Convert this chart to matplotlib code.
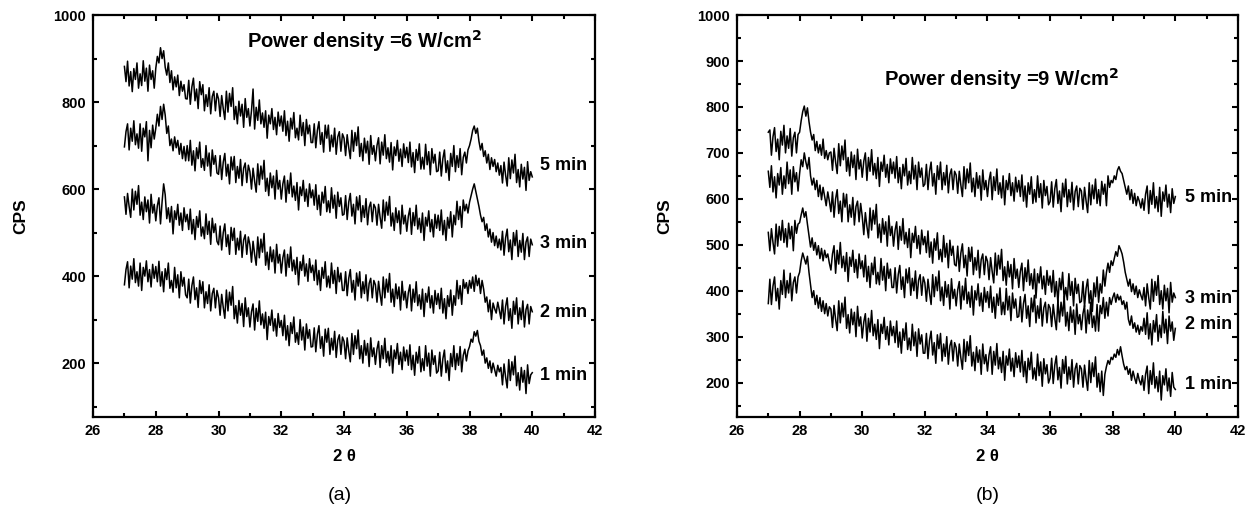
import matplotlib
matplotlib.use("Agg")
import matplotlib.pyplot as plt
import numpy as np
from matplotlib.ticker import MultipleLocator

# 2-theta grid, 27.00 .. 40.00 in 0.05 steps (261 points)
two_theta = np.round(np.arange(540, 801) / 20.0, 2)

# ---------------------------------------------------------------------------
# (a) power density 6 W/cm2  -- one row per degree, 20 points each
# ---------------------------------------------------------------------------
a_5min = [
    882, 847, 894, 837, 870, 824, 877, 852, 890, 832, 865, 838, 895, 848, 878, 825, 885, 852, 872, 832,
    878, 905, 890, 925, 900, 918, 880, 862, 890, 845, 872, 828, 858, 835, 862, 815, 848, 825, 840, 808,
    807, 850, 795, 835, 855, 803, 830, 785, 847, 817, 840, 780, 817, 790, 833, 773, 813, 825, 780, 820,
    807, 767, 815, 785, 760, 825, 777, 820, 790, 833, 760, 790, 750, 802, 768, 795, 742, 808, 765, 785,
    745, 780, 830, 738, 788, 758, 805, 750, 775, 742, 780, 717, 770, 750, 785, 737, 765, 725, 777, 745,
    768, 733, 780, 723, 756, 710, 763, 738, 776, 718, 740, 713, 770, 723, 753, 700, 760, 727, 747, 707,
    707, 750, 695, 735, 755, 703, 730, 685, 747, 717, 747, 687, 724, 697, 740, 680, 720, 732, 687, 727,
    717, 677, 725, 695, 670, 735, 687, 730, 700, 743, 675, 705, 665, 717, 683, 710, 657, 723, 680, 700,
    665, 700, 718, 658, 708, 678, 725, 670, 695, 662, 707, 644, 697, 677, 712, 664, 692, 652, 704, 672,
    696, 661, 708, 651, 684, 638, 691, 666, 704, 646, 673, 646, 703, 656, 686, 633, 693, 660, 680, 640,
    642, 685, 630, 670, 690, 638, 665, 620, 682, 652, 700, 640, 677, 650, 693, 633, 673, 685, 660, 690,
    700, 715, 735, 745, 728, 740, 710, 690, 705, 675, 688, 660, 680, 645, 672, 652, 668, 640, 660, 632,
    654, 614, 662, 632, 607, 672, 624, 667, 637, 680, 615, 645, 605, 657, 623, 650, 597, 663, 620, 640,
    628,
]
a_3min = [
    697, 732, 750, 690, 740, 710, 757, 702, 727, 694, 750, 687, 740, 720, 755, 665, 735, 695, 747, 715,
    740, 772, 745, 790, 760, 795, 770, 728, 745, 700, 715, 688, 720, 695, 712, 680, 705, 670, 698, 665,
    700, 665, 712, 655, 688, 642, 695, 670, 708, 650, 670, 643, 700, 653, 683, 630, 690, 657, 677, 637,
    634, 677, 622, 662, 682, 630, 657, 612, 674, 644, 675, 615, 652, 625, 668, 608, 648, 660, 615, 655,
    640, 600, 648, 618, 593, 658, 610, 653, 623, 666, 595, 625, 585, 637, 603, 630, 577, 643, 600, 620,
    577, 612, 630, 570, 620, 590, 637, 582, 607, 574, 615, 552, 605, 585, 620, 572, 600, 560, 612, 580,
    598, 563, 610, 553, 586, 540, 593, 568, 606, 548, 573, 546, 603, 556, 586, 533, 593, 560, 580, 540,
    542, 585, 530, 570, 590, 538, 565, 520, 582, 552, 585, 525, 562, 535, 578, 518, 558, 570, 525, 565,
    557, 517, 565, 535, 510, 575, 527, 570, 540, 583, 515, 545, 505, 557, 523, 550, 497, 563, 520, 540,
    503, 538, 556, 496, 546, 516, 563, 508, 533, 500, 545, 482, 535, 515, 550, 502, 530, 490, 542, 510,
    540, 505, 552, 495, 528, 482, 535, 510, 548, 490, 540, 518, 572, 530, 560, 512, 575, 550, 565, 545,
    570, 585, 600, 612, 595, 578, 560, 540, 525, 535, 505, 520, 490, 508, 478, 500, 470, 492, 465, 485,
    460, 503, 448, 488, 508, 456, 483, 438, 500, 470, 505, 445, 482, 455, 498, 438, 478, 490, 445, 485,
    472,
]
a_2min = [
    582, 542, 590, 560, 535, 600, 552, 595, 565, 608, 540, 570, 530, 582, 548, 575, 522, 588, 545, 565,
    527, 562, 580, 520, 570, 612, 587, 532, 557, 524, 560, 497, 550, 530, 565, 517, 545, 505, 557, 525,
    542, 507, 554, 497, 530, 484, 537, 512, 550, 492, 513, 486, 543, 496, 526, 473, 533, 500, 520, 480,
    472, 515, 460, 500, 520, 468, 495, 450, 512, 482, 510, 450, 487, 460, 503, 443, 483, 495, 450, 490,
    472, 432, 480, 450, 425, 490, 442, 485, 455, 498, 425, 455, 415, 467, 433, 460, 407, 473, 430, 450,
    407, 442, 460, 400, 450, 420, 467, 412, 437, 404, 443, 380, 433, 413, 448, 400, 428, 388, 440, 408,
    425, 390, 437, 380, 413, 367, 420, 395, 433, 375, 400, 373, 430, 383, 413, 360, 420, 387, 407, 367,
    367, 410, 355, 395, 415, 363, 390, 345, 407, 377, 410, 350, 387, 360, 403, 343, 383, 395, 350, 390,
    380, 340, 388, 358, 333, 398, 350, 393, 363, 406, 340, 370, 330, 382, 348, 375, 322, 388, 345, 365,
    327, 362, 380, 320, 370, 340, 387, 332, 357, 324, 370, 307, 360, 340, 375, 327, 355, 315, 367, 335,
    360, 325, 372, 315, 348, 302, 355, 330, 368, 310, 355, 333, 390, 348, 378, 335, 392, 372, 385, 360,
    390, 372, 398, 365, 402, 378, 395, 360, 390, 370, 340, 352, 318, 345, 300, 338, 325, 315, 340, 322,
    302, 345, 290, 330, 350, 298, 325, 280, 342, 312, 350, 290, 327, 300, 343, 283, 323, 335, 290, 330,
    318,
]
a_1min = [
    380, 415, 433, 373, 423, 393, 440, 385, 410, 377, 430, 367, 420, 400, 435, 387, 415, 375, 427, 395,
    422, 387, 434, 377, 410, 364, 417, 392, 430, 372, 390, 363, 420, 373, 403, 350, 410, 377, 397, 357,
    350, 393, 338, 378, 398, 346, 373, 328, 390, 360, 387, 327, 364, 337, 380, 320, 360, 372, 327, 367,
    350, 310, 358, 328, 303, 368, 320, 363, 333, 376, 302, 332, 292, 344, 310, 337, 284, 350, 307, 327,
    283, 318, 336, 276, 326, 296, 343, 288, 313, 280, 317, 254, 307, 287, 322, 274, 302, 262, 314, 282,
    298, 263, 310, 253, 286, 240, 293, 268, 306, 248, 270, 243, 300, 253, 283, 230, 290, 257, 277, 237,
    238, 281, 226, 266, 286, 234, 261, 216, 278, 248, 280, 220, 257, 230, 273, 213, 253, 265, 220, 260,
    250, 210, 258, 228, 203, 268, 220, 263, 233, 276, 210, 240, 200, 252, 218, 245, 192, 258, 215, 235,
    197, 232, 250, 190, 240, 210, 257, 202, 227, 194, 240, 177, 230, 210, 245, 197, 225, 185, 237, 205,
    230, 195, 242, 185, 218, 172, 225, 200, 238, 180, 210, 183, 240, 193, 223, 170, 230, 197, 217, 177,
    182, 225, 170, 210, 230, 178, 205, 160, 222, 192, 240, 185, 222, 195, 238, 180, 218, 232, 205, 228,
    238, 255, 248, 272, 262, 275, 250, 240, 218, 230, 200, 212, 188, 205, 178, 200, 185, 170, 195, 180,
    190, 150, 198, 168, 143, 208, 160, 203, 173, 216, 148, 178, 138, 190, 156, 183, 130, 196, 153, 173,
    178,
]

# ---------------------------------------------------------------------------
# (b) power density 9 W/cm2
# ---------------------------------------------------------------------------
b_5min = [
    745, 750, 695, 735, 755, 703, 730, 685, 747, 717, 760, 700, 737, 710, 753, 693, 733, 745, 700, 740,
    745, 770, 790, 802, 780, 798, 768, 745, 728, 740, 705, 725, 700, 718, 695, 730, 688, 705, 685, 700,
    702, 662, 710, 680, 655, 720, 672, 715, 685, 728, 660, 690, 650, 702, 668, 695, 642, 708, 665, 685,
    647, 682, 700, 640, 690, 660, 707, 652, 677, 644, 690, 627, 680, 660, 695, 647, 675, 635, 687, 655,
    680, 645, 692, 635, 668, 622, 675, 650, 688, 630, 660, 633, 690, 643, 673, 620, 680, 647, 667, 627,
    632, 675, 620, 660, 680, 628, 655, 610, 672, 642, 680, 620, 657, 630, 673, 613, 653, 665, 620, 660,
    652, 612, 660, 630, 605, 670, 622, 665, 635, 678, 615, 645, 605, 657, 623, 650, 597, 663, 620, 640,
    605, 640, 658, 598, 648, 618, 665, 610, 635, 602, 650, 587, 640, 620, 655, 607, 635, 595, 647, 615,
    640, 605, 652, 595, 628, 582, 635, 610, 648, 590, 620, 593, 650, 603, 633, 580, 640, 607, 627, 587,
    594, 637, 582, 622, 642, 590, 617, 572, 634, 604, 643, 583, 620, 593, 636, 576, 616, 628, 583, 623,
    617, 577, 625, 595, 570, 635, 587, 630, 600, 643, 590, 620, 585, 638, 610, 632, 585, 650, 625, 640,
    635, 650, 642, 662, 670, 660, 655, 640, 625, 610, 628, 598, 620, 590, 612, 585, 605, 595, 580, 600,
    575, 610, 628, 568, 618, 588, 635, 580, 605, 572, 625, 562, 615, 595, 630, 582, 610, 570, 622, 590,
    605,
]
b_3min = [
    660, 625, 672, 615, 648, 602, 655, 630, 668, 610, 650, 623, 680, 633, 663, 610, 670, 637, 657, 617,
    655, 685, 670, 700, 680, 665, 690, 650, 630, 645, 620, 640, 605, 630, 598, 625, 605, 585, 615, 595,
    572, 615, 560, 600, 620, 568, 595, 550, 612, 582, 610, 550, 587, 560, 603, 543, 583, 595, 550, 590,
    562, 522, 570, 540, 515, 580, 532, 575, 545, 588, 515, 545, 505, 557, 523, 550, 497, 563, 520, 540,
    497, 532, 550, 490, 540, 510, 557, 502, 527, 494, 535, 472, 525, 505, 540, 492, 520, 480, 532, 500,
    518, 483, 530, 473, 506, 460, 513, 488, 526, 468, 490, 463, 520, 473, 503, 450, 510, 477, 497, 457,
    454, 497, 442, 482, 502, 450, 477, 432, 494, 464, 495, 435, 472, 445, 488, 428, 468, 480, 435, 475,
    464, 424, 472, 442, 417, 482, 434, 477, 447, 490, 422, 452, 412, 464, 430, 457, 404, 470, 427, 447,
    407, 442, 460, 400, 450, 420, 467, 412, 437, 404, 447, 384, 437, 417, 452, 404, 432, 392, 444, 412,
    432, 397, 444, 387, 420, 374, 427, 402, 440, 382, 407, 380, 437, 390, 420, 367, 427, 394, 414, 374,
    377, 420, 365, 405, 425, 373, 400, 355, 417, 387, 430, 375, 415, 395, 445, 410, 440, 460, 440, 465,
    455, 470, 485, 475, 498, 490, 480, 462, 440, 425, 410, 425, 398, 415, 392, 410, 385, 402, 390, 380,
    407, 367, 415, 385, 360, 425, 377, 420, 390, 433, 370, 400, 360, 412, 378, 405, 352, 418, 375, 395,
    385,
]
b_2min = [
    527, 487, 535, 505, 480, 545, 497, 540, 510, 553, 505, 535, 495, 547, 513, 540, 487, 553, 525, 545,
    548, 565, 580, 560, 572, 545, 520, 495, 515, 488, 505, 478, 498, 470, 492, 465, 488, 472, 480, 460,
    445, 480, 498, 438, 488, 458, 505, 450, 475, 442, 483, 420, 473, 453, 488, 440, 468, 428, 480, 448,
    465, 430, 477, 420, 453, 407, 460, 435, 473, 415, 440, 413, 470, 423, 453, 400, 460, 427, 447, 407,
    407, 450, 395, 435, 455, 403, 430, 385, 447, 417, 450, 390, 427, 400, 443, 383, 423, 435, 390, 430,
    417, 377, 425, 395, 370, 435, 387, 430, 400, 443, 378, 408, 368, 420, 386, 413, 360, 426, 383, 403,
    367, 402, 420, 360, 410, 380, 427, 372, 397, 364, 410, 347, 400, 380, 415, 367, 395, 355, 407, 375,
    398, 363, 410, 353, 386, 340, 393, 368, 406, 348, 375, 348, 405, 358, 388, 335, 395, 362, 382, 342,
    344, 387, 332, 372, 392, 340, 367, 322, 384, 354, 390, 330, 367, 340, 383, 323, 363, 375, 330, 370,
    362, 322, 370, 340, 315, 380, 332, 375, 345, 388, 323, 353, 313, 365, 331, 358, 305, 371, 328, 348,
    315, 350, 368, 308, 358, 328, 375, 320, 345, 312, 370, 312, 368, 350, 385, 340, 375, 345, 385, 370,
    385, 395, 375, 392, 380, 388, 370, 378, 360, 375, 338, 325, 345, 318, 330, 310, 325, 305, 322, 312,
    340, 305, 352, 295, 328, 282, 335, 310, 348, 290, 325, 298, 355, 308, 338, 285, 345, 312, 332, 292,
    318,
]
b_1min = [
    372, 425, 370, 410, 430, 378, 405, 360, 422, 392, 445, 385, 422, 395, 438, 378, 418, 430, 395, 430,
    440, 465, 482, 470, 458, 475, 440, 412, 385, 400, 370, 390, 362, 385, 355, 378, 350, 372, 345, 365,
    360, 320, 368, 338, 313, 378, 330, 373, 343, 386, 318, 348, 308, 360, 326, 353, 300, 366, 323, 343,
    297, 332, 350, 290, 340, 310, 357, 302, 327, 294, 337, 274, 327, 307, 342, 294, 322, 282, 334, 302,
    322, 287, 334, 277, 310, 264, 317, 292, 330, 272, 297, 270, 327, 280, 310, 257, 317, 284, 304, 264,
    264, 307, 252, 292, 312, 260, 287, 242, 304, 274, 307, 247, 284, 257, 300, 240, 280, 292, 247, 287,
    276, 236, 284, 254, 229, 294, 246, 289, 259, 302, 236, 266, 226, 278, 244, 271, 218, 284, 241, 261,
    225, 260, 278, 218, 268, 238, 285, 230, 255, 222, 268, 205, 258, 238, 273, 225, 253, 213, 265, 233,
    258, 223, 270, 213, 246, 200, 253, 228, 266, 208, 232, 205, 262, 215, 245, 192, 252, 219, 239, 199,
    210, 253, 198, 238, 258, 206, 233, 188, 250, 220, 257, 197, 234, 207, 250, 190, 230, 242, 197, 237,
    230, 190, 238, 208, 183, 248, 200, 243, 213, 256, 190, 220, 180, 225, 172, 218, 235, 248, 240, 255,
    250, 262, 255, 272, 260, 278, 258, 240, 228, 235, 218, 230, 205, 225, 210, 198, 220, 205, 195, 215,
    183, 218, 236, 176, 226, 196, 243, 188, 213, 180, 225, 162, 215, 195, 230, 182, 210, 170, 222, 190,
    185,
]

labels = ["5 min", "3 min", "2 min", "1 min"]
a_series = [a_5min, a_3min, a_2min, a_1min]
b_series = [b_5min, b_3min, b_2min, b_1min]
a_label_y = [655, 476, 317, 172]
b_label_y = [602, 383, 326, 196]

plt.rcParams["font.family"] = ["Liberation Sans", "DejaVu Sans"]


def style_axes(ax, ylim, ymajor, yminor):
    ax.set_xlim(26, 42)
    ax.set_ylim(*ylim)
    ax.xaxis.set_major_locator(MultipleLocator(2))
    ax.xaxis.set_minor_locator(MultipleLocator(1))
    ax.yaxis.set_major_locator(MultipleLocator(ymajor))
    ax.yaxis.set_minor_locator(MultipleLocator(yminor))
    ax.tick_params(which="both", direction="in", top=True, right=True,
                   width=1.5, labelsize=10.5, pad=5)
    ax.tick_params(which="major", length=4)
    ax.tick_params(which="minor", length=3)
    for sp in ax.spines.values():
        sp.set_linewidth(1.6)
    for lbl in ax.get_xticklabels() + ax.get_yticklabels():
        lbl.set_fontweight("bold")
    ax.set_xlabel("2 θ", fontsize=12, fontweight="bold", labelpad=8)
    ax.set_ylabel("CPS", fontsize=12.5, fontweight="bold", labelpad=18)


fig = plt.figure(figsize=(12.54, 5.2), dpi=100)
ax1 = fig.add_axes([0.0742, 0.198, 0.4003, 0.773])
ax2 = fig.add_axes([0.5877, 0.198, 0.3995, 0.773])

for ys, lab, ly in zip(a_series, labels, a_label_y):
    ax1.plot(two_theta, ys, color="black", lw=1.1)
    ax1.text(40.25, ly, lab, fontsize=13, fontweight="bold", va="center")
for ys, lab, ly in zip(b_series, labels, b_label_y):
    ax2.plot(two_theta, ys, color="black", lw=1.1)
    ax2.text(40.3, ly, lab, fontsize=13, fontweight="bold", va="center")

style_axes(ax1, (76, 1000), 200, 100)
style_axes(ax2, (125, 1000), 100, 50)

ax1.text(30.9, 940, "Power density =6 W/cm$^\\mathbf{2}$", fontsize=14.5,
         fontweight="bold", va="center")
ax2.text(30.7, 860, "Power density =9 W/cm$^\\mathbf{2}$", fontsize=14.5,
         fontweight="bold", va="center")

fig.text(0.271, 0.048, "(a)", fontsize=14, ha="center", va="center")
fig.text(0.788, 0.048, "(b)", fontsize=14, ha="center", va="center")

fig.savefig("out.png", dpi=100)
